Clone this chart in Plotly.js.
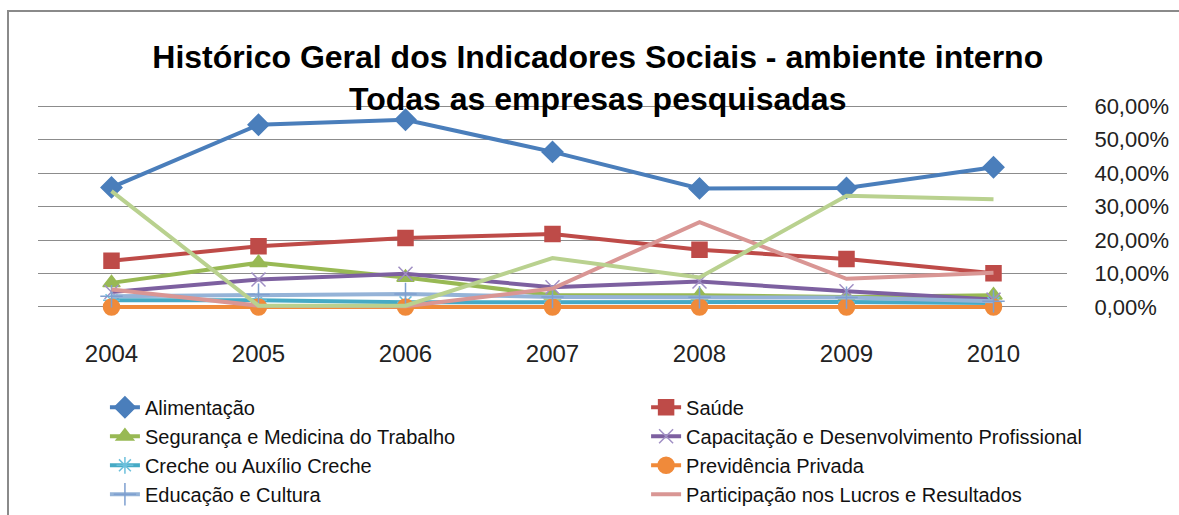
<!DOCTYPE html>
<html>
<head>
<meta charset="utf-8">
<script src="https://cdn.plot.ly/plotly-3.0.1.min.js"></script>
<style>
  html, body { margin: 0; padding: 0; background: #fff; overflow: hidden; }
  #chart { width: 1179px; height: 515px; }
  #frame {
    position: absolute; left: 7px; top: 10px; width: 1300px; height: 600px;
    border: 2px solid #8a8a8a; pointer-events: none;
  }
</style>
</head>
<body>
<div id="chart"></div>
<div id="frame"></div>
<script>
// anos (categorias)
const years = ["2004", "2005", "2006", "2007", "2008", "2009", "2010"];

// valores em %
const alimentacao  = [35.7, 54.4, 55.9, 46.3, 35.4, 35.5, 41.7];
const saude        = [13.8, 18.1, 20.6, 21.8, 17.1, 14.3, 10.1];
const seguranca    = [7.2, 13.2, 8.8, 3.5, 3.5, 3.0, 3.5];
const capacitacao  = [4.5, 8.2, 9.9, 5.9, 7.6, 4.7, 2.2];
const creche       = [2.0, 2.0, 1.4, 1.4, 1.6, 1.5, 1.2];
const previdencia  = [0, 0, 0, 0, 0, 0, 0];
const educacao     = [3.2, 3.7, 3.9, 3.0, 2.9, 2.8, 1.7];
const participacao = [5.2, 0.4, 0.2, 5.5, 25.3, 8.4, 10.2];
const semLegenda   = [34.6, 0.4, 0.4, 14.6, 8.8, 33.2, 32.2];

// eixo y
const yTickVals = [0, 10, 20, 30, 40, 50, 60];
const yTickText = ["0,00%", "10,00%", "20,00%", "30,00%", "40,00%", "50,00%", "60,00%"];

const FONT = "Liberation Sans, Arial, sans-serif";

function serie(name, values, color, symbol, size, markerColor, extra) {
  let t = {
    x: years,
    y: values,
    name: name,
    legendgroup: name,
    type: 'scatter',
    mode: symbol ? 'lines+markers' : 'lines',
    line: { color: color, width: 4 },
    cliponaxis: false,
    hoverinfo: 'skip'
  };
  if (symbol) {
    t.marker = { symbol: symbol, size: size, color: markerColor || color,
                 line: { color: markerColor || color, width: 1.5 } };
  }
  return Object.assign(t, extra || {});
}

const L = { legend: 'legend' };
const R = { legend: 'legend2' };

let traces = [
  serie("Alimentação", alimentacao, "#4a7ebb", "diamond", 16, null, L),
  serie("Saúde", saude, "#be4b48", "square", 15, null, R),
  serie("Segurança e Medicina do Trabalho", seguranca, "#98b954", "triangle-up", 15, null, L),
  serie("Capacitação e Desenvolvimento Profissional", capacitacao, "#7d60a0", "x-thin-open", 14, "#a08fc4", R),
  serie("Creche ou Auxílio Creche", creche, "#46aac5", "asterisk-open", 14, "#6cc0dc", L),
  serie("Previdência Privada", previdencia, "#f08a3a", "circle", 16, null, R),
  serie("Educação e Cultura", educacao, "#95b3d7", "cross-thin-open", 16, "#7e9fd0", L),
  serie("Participação nos Lucros e Resultados", participacao, "#d99694", null, 0, null, R),
  serie("Série 9", semLegenda, "#b9d18f", null, 0, null, { showlegend: false })
];

function legendBox(x) {
  return {
    orientation: 'v',
    x: x, xref: 'container', xanchor: 'left',
    y: 0.247, yref: 'container', yanchor: 'top',
    font: { family: FONT, size: 20, color: '#111' },
    traceorder: 'grouped',
    tracegroupgap: 0,
    itemwidth: 30,
    bgcolor: 'rgba(0,0,0,0)'
  };
}

let layout = {
  width: 1179,
  height: 515,
  margin: { l: 38, r: 112, t: 104, b: 205.5, autoexpand: false },
  paper_bgcolor: '#ffffff',
  plot_bgcolor: '#ffffff',
  font: { family: FONT, color: '#222' },
  title: {
    text: "<b>Histórico Geral dos Indicadores Sociais - ambiente interno<br>Todas as empresas pesquisadas</b>",
    font: { family: FONT, size: 32, color: '#000' },
    x: 0.507, xref: 'container', xanchor: 'center',
    y: 0.868, yref: 'container', yanchor: 'top'
  },
  xaxis: {
    type: 'category',
    range: [-0.5, 6.5],
    showgrid: false,
    zeroline: false,
    showline: false,
    ticks: 'outside', ticklen: 23, tickcolor: 'rgba(0,0,0,0)',
    tickfont: { family: FONT, size: 24, color: '#222' }
  },
  yaxis: {
    side: 'right',
    range: [-0.6, 60.6],
    tickvals: yTickVals,
    ticktext: yTickText,
    showgrid: true,
    gridcolor: '#8c8c8c',
    gridwidth: 1,
    zeroline: false,
    showline: false,
    ticks: 'outside', ticklen: 22, tickcolor: 'rgba(0,0,0,0)',
    tickfont: { family: FONT, size: 22, color: '#222' }
  },
  showlegend: true,
  legend: legendBox(0.089),
  legend2: legendBox(0.548)
};

Plotly.newPlot('chart', traces, layout, { displayModeBar: false, staticPlot: true });
</script>
</body>
</html>
